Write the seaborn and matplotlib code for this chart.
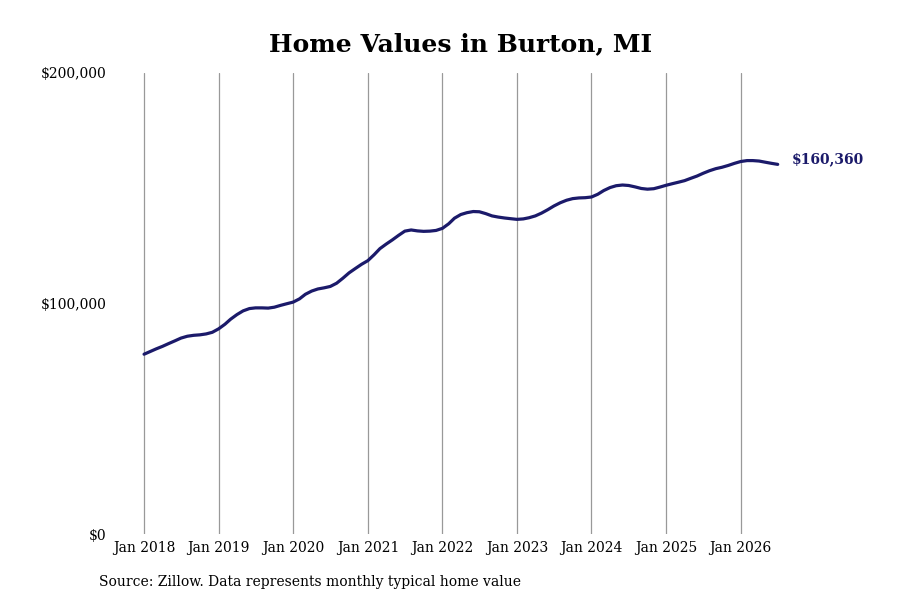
import matplotlib
matplotlib.use("Agg")
import matplotlib.pyplot as plt
import seaborn as sns
import pandas as pd

# Monthly typical home values, Jan 2018 - Jul 2026
values_2018 = [78000, 79200, 80300, 81400, 82600, 83800, 85000, 85800, 86200, 86400, 86800, 87500]
values_2019 = [89000, 91000, 93200, 95200, 96800, 97800, 98100, 98100, 98000, 98400, 99200, 99900]
values_2020 = [100600, 102000, 104000, 105400, 106300, 106800, 107400, 108800, 111000, 113300, 115200, 117000]
values_2021 = [118600, 121200, 123800, 125800, 127600, 129600, 131400, 131900, 131500, 131300, 131400, 131700]
values_2022 = [132600, 134600, 137000, 138600, 139400, 139900, 139800, 139000, 138000, 137500, 137100, 136800]
values_2023 = [136500, 136700, 137200, 138000, 139200, 140700, 142300, 143700, 144800, 145500, 145800, 145900]
values_2024 = [146200, 147400, 149000, 150300, 151100, 151400, 151200, 150600, 149900, 149600, 149800, 150500]
values_2025 = [151300, 152000, 152600, 153300, 154300, 155300, 156500, 157600, 158500, 159100, 159900, 160800]
values_2026 = [161600, 162000, 162000, 161800, 161300, 160800, 160360]

values = (values_2018 + values_2019 + values_2020 + values_2021 + values_2022 +
          values_2023 + values_2024 + values_2025 + values_2026)
dates = pd.date_range("2018-01-01", periods=len(values), freq="MS")
year_ticks = pd.date_range("2018-01-01", "2026-01-01", freq="YS")
tick_labels = [f"Jan {d.year}" for d in year_ticks]
y_ticks = [0, 100000, 200000]
y_labels = ["$0", "$100,000", "$200,000"]
title = "Home Values in Burton, MI"
source = "Source: Zillow. Data represents monthly typical home value"
end_label = "$160,360"

df = pd.DataFrame({"date": dates, "value": values})

sns.set_theme(style="white")
plt.rcParams["font.family"] = ["DejaVu Serif"]
plt.rcParams["text.color"] = "black"

navy = "#1b1a6a"
fig = plt.figure(figsize=(9, 6), dpi=100)
ax = fig.add_axes([112/900, 66/600, (860-112)/900, (534-73)/600])

sns.lineplot(data=df, x="date", y="value", ax=ax, color=navy, linewidth=2.3)

ax.set_ylim(0, 200000)
start = pd.Timestamp("2018-01-01")
ax.set_xlim(start - pd.Timedelta(days=157), start + pd.Timedelta(days=int(9.6*365.25)))
ax.set_xticks(year_ticks)
ax.set_xticklabels(tick_labels)
ax.set_yticks(y_ticks)
ax.set_yticklabels(y_labels)
ax.tick_params(axis="both", length=0, labelsize=10, colors="black")
ax.tick_params(axis="x", pad=5)
ax.tick_params(axis="y", pad=4)

ax.grid(axis="x", color="#999999", linewidth=0.9)
ax.grid(axis="y", visible=False)
for s in ax.spines.values():
    s.set_visible(False)
ax.set_xlabel("")
ax.set_ylabel("")

ax.annotate(end_label, xy=(dates[-1], values[-1]), xytext=(10, 4),
            textcoords="offset points", ha="left", va="center",
            fontsize=10, fontweight="bold", color=navy, annotation_clip=False)

fig.text(461/900, 1-44/600, title, ha="center", va="center",
         fontsize=18, fontweight="bold", color="black")
fig.text(99/900, 1-582/600, source, ha="left", va="center", fontsize=10, color="black")

fig.savefig("out.png", dpi=100)
